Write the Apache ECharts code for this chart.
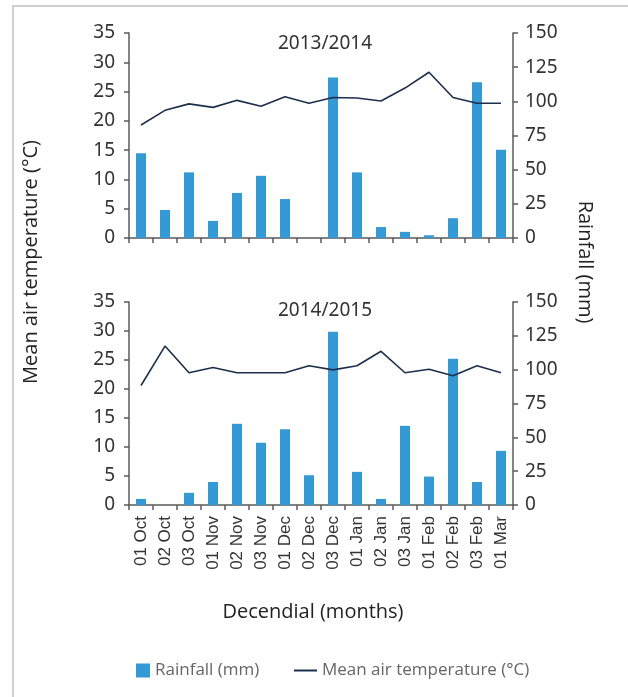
<!DOCTYPE html>
<html>
<head>
<meta charset="utf-8">
<script src="https://cdn.jsdelivr.net/npm/echarts@6/dist/echarts.min.js"></script>
<style>
	html, body { margin: 0; padding: 0; background: #fff; }
	#frame { position: absolute; left: 12px; top: 5px; right: 0; bottom: 0; border-left: 2px solid #d0d0d0; border-top: 2px solid #d0d0d0; }
	#chart { position: absolute; left: 0; top: 0; width: 628px; height: 697px; }
</style>
</head>
<body>
<div id="frame"></div>
<div id="chart"></div>
<script>
	// decendial periods (x axis)
	const categories = ['01 Oct', '02 Oct', '03 Oct', '01 Nov', '02 Nov', '03 Nov', '01 Dec', '02 Dec',
		'03 Dec', '01 Jan', '02 Jan', '03 Jan', '01 Feb', '02 Feb', '03 Feb', '01 Mar'];

	// 2013/2014
	const rain1314 = [62, 20.5, 48, 12.5, 33, 45.5, 28.5, 0, 117.5, 48, 8, 4.5, 2, 14.5, 114, 64.5];
	const temp1314 = [19.3, 21.8, 22.9, 22.3, 23.5, 22.5, 24.1, 23.0, 24.0, 23.9, 23.4, 25.6, 28.3, 24.0, 23.0, 23.0];

	// 2014/2015
	const rain1415 = [4.5, 0, 9, 17, 60, 46, 56, 22, 128, 24.5, 4.5, 58.5, 21, 108, 17, 40];
	const temp1415 = [20.6, 27.4, 22.8, 23.7, 22.8, 22.8, 22.8, 24.0, 23.3, 24.0, 26.5, 22.8, 23.4, 22.3, 24.0, 22.8];

	const seasons = ['2013/2014', '2014/2015'];
	const tempAxis = { min: 0, max: 35, interval: 5 };
	const rainAxis = { min: 0, max: 150, interval: 25 };

	const rainName = 'Rainfall (mm)';
	const tempName = 'Mean air temperature (°C)';

	const axisColor = '#5a5a5a';
	const tickFont = { fontFamily: 'Noto Sans', fontSize: 19, color: '#333' };
	const nameFont = 'Open Sans';

	const chart = echarts.init(document.getElementById('chart'), null, { renderer: 'canvas' });

	const grids = [
		{ left: 129, right: 115, top: 33, height: 205 },
		{ left: 129, right: 115, top: 302, height: 203 }
	];

	const xAxes = grids.map((g, i) => ({
		type: 'category',
		gridIndex: i,
		data: categories,
		boundaryGap: true,
		axisLine: { lineStyle: { color: axisColor, width: 1.5 } },
		axisTick: { show: true, length: 5, lineStyle: { color: axisColor, width: 1.5 } },
		axisLabel: {
			show: i === 1,
			rotate: 90,
			interval: 0,
			margin: 11,
			fontFamily: 'Liberation Sans',
			fontSize: 17,
			color: '#333'
		}
	}));

	const yAxes = [];
	grids.forEach((g, i) => {
		yAxes.push({
			type: 'value',
			gridIndex: i,
			position: 'left',
			min: tempAxis.min,
			max: tempAxis.max,
			interval: tempAxis.interval,
			splitLine: { show: false },
			axisLine: { show: true, lineStyle: { color: axisColor, width: 1.5 } },
			axisTick: { show: true, length: 5, lineStyle: { color: axisColor, width: 1.5 } },
			axisLabel: Object.assign({ margin: 14 }, tickFont)
		});
		yAxes.push({
			type: 'value',
			gridIndex: i,
			position: 'right',
			min: rainAxis.min,
			max: rainAxis.max,
			interval: rainAxis.interval,
			splitLine: { show: false },
			axisLine: { show: true, lineStyle: { color: axisColor, width: 1.5 } },
			axisTick: { show: true, length: 5, lineStyle: { color: axisColor, width: 1.5 } },
			axisLabel: Object.assign({ margin: 12 }, tickFont)
		});
	});

	function barSeries(data, i) {
		return {
			name: rainName,
			type: 'bar',
			xAxisIndex: i,
			yAxisIndex: i * 2 + 1,
			data: data,
			barWidth: 10,
			itemStyle: { color: '#3599d4' },
			z: 2
		};
	}

	function lineSeries(data, i) {
		return {
			name: tempName,
			type: 'line',
			xAxisIndex: i,
			yAxisIndex: i * 2,
			data: data,
			symbol: 'none',
			lineStyle: { color: '#1c2f4d', width: 1.6 },
			itemStyle: { color: '#1c2f4d' },
			z: 3
		};
	}

	const option = {
		animation: false,
		title: seasons.map((s, i) => ({
			text: s,
			left: 320,
			textAlign: 'center',
			top: i === 0 ? 29 : 296,
			textStyle: { fontFamily: 'Noto Sans', fontSize: 19, fontWeight: 'normal', color: '#333' }
		})),
		legend: [{
			data: [{ name: rainName, icon: 'rect' }],
			left: 131,
			top: 657,
			itemWidth: 14,
			itemHeight: 14,
			itemGap: 8,
			textStyle: { fontFamily: nameFont, fontSize: 17, color: '#666' }
		}, {
			data: [{ name: tempName, icon: 'rect' }],
			left: 289,
			top: 657,
			itemWidth: 23,
			itemHeight: 2,
			itemGap: 8,
			textStyle: { fontFamily: nameFont, fontSize: 17, color: '#666' }
		}],
		grid: grids,
		xAxis: xAxes,
		yAxis: yAxes,
		series: [
			barSeries(rain1314, 0), lineSeries(temp1314, 0),
			barSeries(rain1415, 1), lineSeries(temp1415, 1)
		],
		graphic: [{
			type: 'text',
			x: 31,
			y: 262,
			rotation: Math.PI / 2,
			style: { text: tempName, fontFamily: nameFont, fontSize: 20, fill: '#222', textAlign: 'center', textVerticalAlign: 'middle' }
		}, {
			type: 'text',
			x: 585,
			y: 262,
			rotation: -Math.PI / 2,
			style: { text: rainName, fontFamily: nameFont, fontSize: 20, fill: '#222', textAlign: 'center', textVerticalAlign: 'middle' }
		}, {
			type: 'text',
			x: 313,
			y: 612,
			style: { text: 'Decendial (months)', fontFamily: nameFont, fontSize: 20, fill: '#222', textAlign: 'center', textVerticalAlign: 'middle' }
		}]
	};

	chart.setOption(option);
</script>
</body>
</html>
